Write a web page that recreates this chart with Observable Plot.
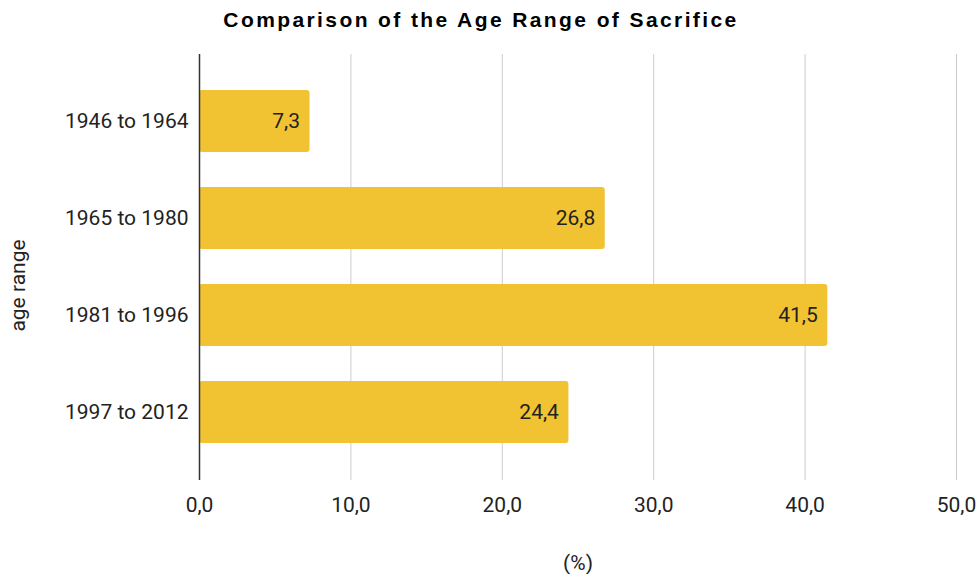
<!DOCTYPE html>
<html>
<head>
<meta charset="utf-8">
<script src="https://cdn.jsdelivr.net/npm/d3@7"></script>
<script src="https://cdn.jsdelivr.net/npm/@observablehq/plot@0.6"></script>
<style>
  body { margin: 0; background: #fff; }
</style>
</head>
<body>
<div id="chart"></div>
<script>
// Share of respondents (%) by generation / age range
const ageRanges = ["1946 to 1964", "1965 to 1980", "1981 to 1996", "1997 to 2012"];
const shares = [7.3, 26.8, 41.5, 24.4];
const xTicks = [0, 10, 20, 30, 40, 50];
const titleText = "Comparison of the Age Range of Sacrifice";

const data = ageRanges.map((range, i) => ({range, share: shares[i]}));

// Decimal comma, one decimal place
const fmt = d3.formatLocale({decimal: ",", thousands: ".", grouping: [3], currency: ["", ""]}).format(".1f");

const chart = Plot.plot({
  width: 977,
  height: 574,
  marginTop: 54,
  marginBottom: 94,
  marginLeft: 199,
  marginRight: 21,
  style: {fontFamily: "Roboto", fontSize: "21px", color: "#222", background: "#fff"},
  x: {domain: [0, 50], label: null},
  y: {domain: ageRanges, padding: 0.36, label: null},
  marks: [
    Plot.gridX(xTicks.slice(1), {stroke: "#cccccc", strokeOpacity: 1}),
    Plot.axisX(xTicks, {tickSize: 0, tickPadding: 17, tickFormat: fmt, fontSize: 21, fill: "#222", label: null}),
    Plot.axisY({tickSize: 0, tickPadding: 11, fontSize: 21, fill: "#222", label: null}),
    Plot.barX(data, {x: "share", y: "range", fill: "#f1c232", rx: 3}),
    Plot.ruleX([0], {stroke: "#333", strokeWidth: 1.5}),
    Plot.text(data, {x: "share", y: "range", text: d => fmt(d.share), textAnchor: "end", dx: -10, fill: "#222", fontSize: 21}),
    Plot.text([titleText], {
      text: d => d, frameAnchor: "top", textAnchor: "middle", dx: -97, dy: -42,
      fontFamily: "Liberation Sans", fontWeight: "bold", fontSize: 21, fill: "#000"
    }),
    Plot.text(["age range"], {
      text: d => d, frameAnchor: "left", textAnchor: "middle", dx: -181, dy: 18, rotate: -90,
      fontSize: 21, fill: "#222"
    }),
    Plot.text(["(%)"], {
      text: d => d, frameAnchor: "bottom", dy: 89,
      fontSize: 21, fill: "#222"
    })
  ]
});

// Widen the title's letter spacing
d3.select(chart).selectAll("text")
  .filter(function() { return this.textContent === titleText; })
  .style("letter-spacing", "2.4px");

document.getElementById("chart").append(chart);
</script>
</body>
</html>
